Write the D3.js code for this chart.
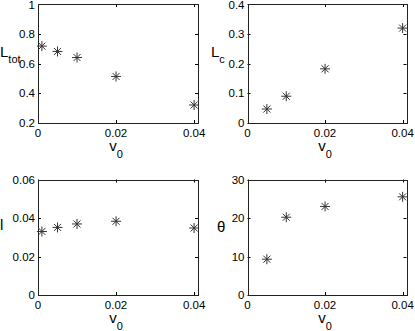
<!DOCTYPE html>
<html>
<head>
<meta charset="utf-8">
<script src="https://cdn.jsdelivr.net/npm/d3@7"></script>
<style>
  body { margin: 0; background: #fff; }
  svg { display: block; font-family: "Liberation Sans", Arial, sans-serif; }
</style>
</head>
<body>
<svg width="415" height="331"></svg>
<script>
// data
const v0All = [0.001, 0.005, 0.01, 0.02, 0.04];
const v0Short = [0.005, 0.01, 0.02, 0.04];
const Ltot = [0.717, 0.681, 0.640, 0.513, 0.321];
const Lc = [0.047, 0.090, 0.182, 0.319];
const ell = [0.0330, 0.0351, 0.0369, 0.0383, 0.0348];
const theta = [9.3, 20.2, 23.0, 25.5];

const xTicks = [0, 0.02, 0.04];
const xTickLabels = ["0", "0.02", "0.04"];
const LtotTicks = [0.2, 0.4, 0.6, 0.8, 1];
const LtotTickLabels = ["0.2", "0.4", "0.6", "0.8", "1"];
const LcTicks = [0, 0.1, 0.2, 0.3, 0.4];
const LcTickLabels = ["0", "0.1", "0.2", "0.3", "0.4"];
const ellTicks = [0, 0.02, 0.04, 0.06];
const ellTickLabels = ["0", "0.02", "0.04", "0.06"];
const thetaTicks = [0, 10, 20, 30];
const thetaTickLabels = ["0", "10", "20", "30"];

const svg = d3.select('svg');

const panels = [
    { x: v0All, y: Ltot, yDom: [0.2, 1], yt: LtotTicks, ytl: LtotTickLabels,
      box: [38, 198, 4, 123], label: "L", sub: "tot", lx: 0, ly: 57 },
    { x: v0Short, y: Lc, yDom: [0, 0.4], yt: LcTicks, ytl: LcTickLabels,
      box: [247.5, 406.5, 4, 123], label: "L", sub: "c", lx: 211, ly: 57 },
    { x: v0All, y: ell, yDom: [0, 0.06], yt: ellTicks, ytl: ellTickLabels,
      box: [38, 198, 179.5, 295], label: "l", sub: "", lx: 0, ly: 230 },
    { x: v0Short, y: theta, yDom: [0, 30], yt: thetaTicks, ytl: thetaTickLabels,
      box: [247.5, 406.5, 179.5, 295], label: "θ", sub: "", lx: 217, ly: 232 }
];

panels.forEach(function(p) {
    const [x0, x1, y0, y1] = p.box;
    const x = d3.scaleLinear().domain([0, 0.041]).range([x0, x1]);
    const y = d3.scaleLinear().domain(p.yDom).range([y1, y0]);
    const g = svg.append('g');

    // ticks (inward, on all four sides)
    xTicks.forEach(function(t) {
        const px = Math.round(x(t)) + 0.5;
        g.append('line').attr('x1', px).attr('x2', px).attr('y1', y1).attr('y2', y1 - 3)
            .attr('stroke', '#000');
        g.append('line').attr('x1', px).attr('x2', px).attr('y1', y0).attr('y2', y0 + 3)
            .attr('stroke', '#000');
    });
    p.yt.forEach(function(t) {
        const py = Math.round(y(t)) + 0.5;
        g.append('line').attr('x1', x0).attr('x2', x0 + 3).attr('y1', py).attr('y2', py)
            .attr('stroke', '#000');
        g.append('line').attr('x1', x1).attr('x2', x1 - 3).attr('y1', py).attr('y2', py)
            .attr('stroke', '#000');
    });

    // box
    g.append('rect')
        .attr('x', Math.round(x0) + 0.5).attr('y', Math.round(y0) + 0.5)
        .attr('width', Math.round(x1) - Math.round(x0)).attr('height', Math.round(y1) - Math.round(y0))
        .attr('fill', 'none').attr('stroke', '#222').attr('stroke-width', 1);

    // tick labels
    g.selectAll('.xt').data(xTicks).enter().append('text')
        .attr('x', (d) => x(d)).attr('y', y1 + 14)
        .attr('text-anchor', 'middle').attr('font-size', 11.5)
        .text((d, i) => xTickLabels[i]);
    g.selectAll('.yt').data(p.yt).enter().append('text')
        .attr('x', x0 - 3).attr('y', (d) => Math.max(y(d) + 4, 9))
        .attr('text-anchor', 'end').attr('font-size', 11.5)
        .text((d, i) => p.ytl[i]);

    // axis labels
    const xl = g.append('text').attr('x', (x0 + x1) / 2 - 2).attr('y', y1 + 28)
        .attr('text-anchor', 'middle').attr('font-size', 15);
    xl.append('tspan').text('v');
    xl.append('tspan').attr('dy', 7).attr('font-size', 11).text('0');

    const yl = g.append('text').attr('x', p.lx).attr('y', p.ly).attr('font-size', 15);
    yl.append('tspan').text(p.label);
    if (p.sub) yl.append('tspan').attr('dy', 6).attr('font-size', 11).text(p.sub);

    // asterisk markers
    const r = 5;
    const pts = g.selectAll('.pt').data(p.x.map((d, i) => [d, p.y[i]])).enter().append('g')
        .attr('transform', (d) => 'translate(' + x(d[0]) + ',' + y(d[1]) + ')');
    pts.append('path')
        .attr('d', 'M' + (-r) + ',0H' + r + 'M0,' + (-r) + 'V' + r +
            'M' + (-r * 0.7) + ',' + (-r * 0.7) + 'L' + (r * 0.7) + ',' + (r * 0.7) +
            'M' + (-r * 0.7) + ',' + (r * 0.7) + 'L' + (r * 0.7) + ',' + (-r * 0.7))
        .attr('stroke', '#333').attr('stroke-width', 1).attr('fill', 'none');
});
</script>
</body>
</html>
